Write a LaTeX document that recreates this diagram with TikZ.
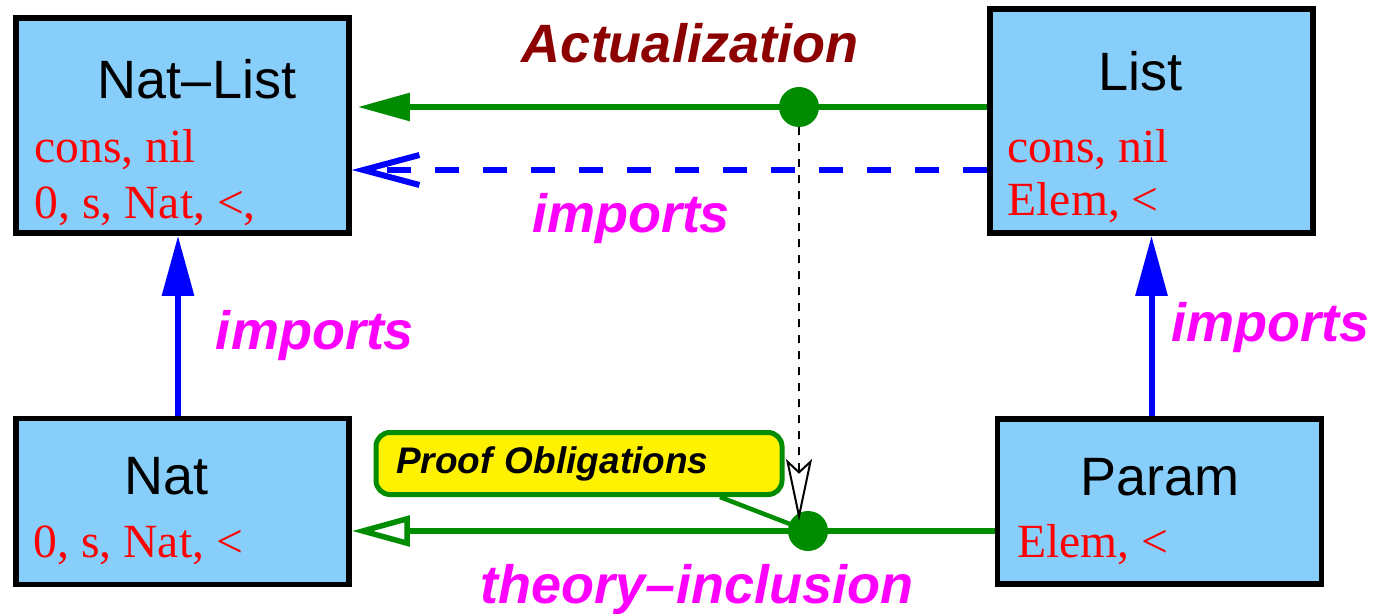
\documentclass[tikz,border=0pt]{standalone}
\usepackage{fontspec}
\setmainfont{Liberation Sans}
\newfontfamily\opsfont{Liberation Serif}
\usepackage{tikz}
\usetikzlibrary{positioning, arrows.meta, calc}

\definecolor{boxblue}{RGB}{135,206,250}
\definecolor{linkgreen}{RGB}{0,140,0}
\definecolor{actred}{RGB}{140,0,0}
\definecolor{lblpink}{RGB}{255,0,255}

\begin{document}
\begin{tikzpicture}[
    x=0.5pt, y=-0.5pt,
    theory/.style={draw=black, line width=2.8pt, fill=boxblue, rectangle, inner sep=0pt},
    title/.style={anchor=base, inner sep=0pt, font=\fontsize{27}{32}\selectfont},
    ops/.style={anchor=base west, inner sep=0pt, text=red, font=\opsfont\fontsize{23.8}{28}\selectfont},
    lbl/.style={anchor=base, inner sep=0pt, text=lblpink, font=\bfseries\itshape\fontsize{27}{32}\selectfont},
    dot/.style={circle, fill=linkgreen, minimum size=20pt, inner sep=0pt},
    note/.style={draw=linkgreen, line width=2.5pt, fill=yellow, rounded corners=7pt, minimum width=203pt, minimum height=31pt, text width=183pt, inner xsep=10pt, align=left, font=\bfseries\itshape\fontsize{18.5}{22}\selectfont},
    actual/.style={linkgreen, line width=2.75pt},
    imported/.style={blue, line width=3pt, -{Triangle[length=30pt, width=15.5pt]}},
    dimport/.style={blue, line width=3pt, dash pattern=on 12pt off 12pt, -{Straight Barb[length=28pt, width=15pt]}},
    inclusion/.style={linkgreen, line width=2.75pt, -{Triangle[open, length=29pt, width=15pt, fill=white]}},
    oblig/.style={black, line width=1pt, dash pattern=on 4pt off 4pt, -{Stealth[open, length=31pt, width=13pt, inset=6pt, fill=white]}}
]
\useasboundingbox (0,0) rectangle (1374,614);

% nodes
\node[theory, minimum width=166.5pt, minimum height=107.5pt] (natlist) at (182.5,125.5) {};
\node[theory, minimum width=161.5pt, minimum height=112pt] (list) at (1151.5,121) {};
\node[theory, minimum width=166.5pt, minimum height=83pt, below=90pt of natlist] (nat) {};
\node[theory, minimum width=162pt, minimum height=82.5pt, right=321.5pt of nat] (param) {};

\node[title] at ([shift={(14.5,83)}]natlist.north) {Nat–List};
\node[ops] at ([shift={(21,147)}]natlist.north west) {cons, nil};
\node[ops] at ([shift={(21,203)}]natlist.north west) {0, s, Nat, <,};

\node[title] at ([shift={(-11.5,84)}]list.north) {List};
\node[ops] at ([shift={(20,156)}]list.north west) {cons, nil};
\node[ops] at ([shift={(20,209)}]list.north west) {Elem, <};

\node[title] at ([shift={(-15.5,79)}]nat.north) {Nat};
\node[ops] at ([shift={(20,142)}]nat.north west) {0, s, Nat, <};

\node[title] at ([shift={(0,79)}]param.north) {Param};
\node[ops] at ([shift={(22,141)}]param.north west) {Elem, <};

\node[dot] (act) at (799,107) {};
\node[dot] (incl) at (808,531) {};
\node[note] (proof) at (579,463.5) {Proof Obligations};

% edges
\draw[actual, -{Triangle[length=26pt, width=13.5pt]}, shorten >=3pt] (list.west |- act) -- (act -| natlist.east)
    node[lbl] at (690,63) {\color{actred}Actualization};
\draw[dimport] (list.west |- 0,170) -- (natlist.east |- 0,170)
    node[lbl] at (631,233) {imports};
\draw[imported] (nat.north -| 178,0) -- (natlist.south -| 178,0)
    node[lbl] at (315,350) {imports};
\draw[imported] (param.north -| list.south) -- (list.south)
    node[lbl] at (1270,342) {imports};
\draw[inclusion] (param.west |- incl) -- (nat.east |- incl)
    node[lbl] at (697,603) {theory–inclusion};
\draw[linkgreen, line width=2.25pt] ([shift={(141,0)}]proof.south) -- (incl.center);
\draw[oblig] (act.south) -- (act |- incl) [shorten >=5pt];

\end{tikzpicture}
\end{document}
